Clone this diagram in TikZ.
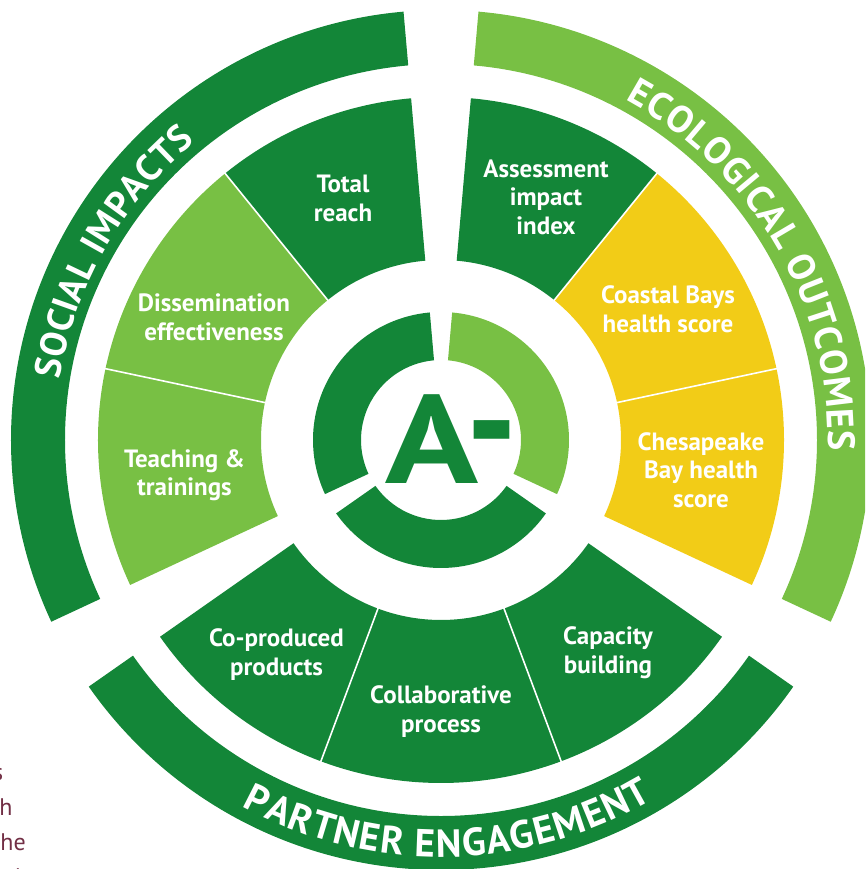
\documentclass[tikz,border=0pt]{standalone}
\usepackage{fontspec}
\setmainfont{PT Sans}
\usetikzlibrary{decorations.text}
\definecolor{dkgreen}{HTML}{138638}
\definecolor{ltgreen}{HTML}{78C044}
\definecolor{ylw}{HTML}{F2CC17}
\definecolor{bodymaroon}{HTML}{722F45}
\newcommand\ringseg[5]{%
  \fill[#1] (#2:#4pt) arc[start angle=#2, end angle=#3, radius=#4pt] -- (#3:#5pt) arc[start angle=#3, end angle=#2, radius=#5pt] -- cycle;}
\newcommand\bandfont[1]{\fontsize{#1}{#1}\selectfont\bfseries}
\tikzset{
  lbl/.style={text=white, font=\fontsize{25}{28.5}\selectfont\bfseries, align=center, inner sep=0pt},
  bodytxt/.style={text=bodymaroon, font=\fontsize{24}{24}\selectfont, inner sep=0pt, anchor=base east},
  sepline/.style={white, line width=1.6pt},
}
\begin{document}
\begin{tikzpicture}[x=1pt,y=1pt]
\useasboundingbox (-441,-429) rectangle (424,440);
\begin{scope}
\clip (-441,-429) rectangle (424,440);
% outer bands
\ringseg{dkgreen}{95}{205}{376}{430}
\ringseg{ltgreen}{-25}{85}{376}{430}
\ringseg{dkgreen}{215}{325}{376}{430}
% wedges
\ringseg{dkgreen}{95}{129}{180}{343}
\ringseg{ltgreen}{129}{168}{180}{343}
\ringseg{ltgreen}{168}{205}{180}{343}
\ringseg{dkgreen}{51}{85}{180}{343}
\ringseg{ylw}{12}{51}{180}{343}
\ringseg{ylw}{-25}{12}{180}{343}
\ringseg{dkgreen}{215}{249.5}{180}{343}
\ringseg{dkgreen}{249.5}{290.5}{180}{343}
\ringseg{dkgreen}{290.5}{325}{180}{343}
\foreach \a in {129,168,51,12,249.5,290.5}
  \draw[sepline] (\a:179pt) -- (\a:344pt);
% inner ring
\ringseg{dkgreen}{95}{205}{80}{128}
\ringseg{ltgreen}{-25}{85}{80}{128}
\ringseg{dkgreen}{215}{325}{80}{128}
% band titles
\path[decorate, decoration={text along path, text={|\bandfont{37}|SOCIAL IMPACTS}, text align=fit to path, text color=white}]
  (171:386pt) arc[start angle=171, end angle=129.5, radius=386pt];
\path[decorate, decoration={text along path, text={|\bandfont{38}|ECOLOGICAL OUTCOMES}, text align=fit to path, text color=white}]
  (61.5:387pt) arc[start angle=61.5, end angle=-1.5, radius=387pt];
\path[decorate, decoration={text along path, text={|\bandfont{39}|PARTNER ENGAGEMENT}, text align=fit to path, text color=white}]
  (241.5:417pt) arc[start angle=241.5, end angle=300.5, radius=417pt];
% labels
\node[lbl] (total) at (-98,241.5) {Total\\reach};
\node[lbl] (assess) at (105,243) {Assessment\\impact\\index};
\node[lbl] (dissem) at (-227,122.5) {Dissemination\\effectiveness};
\node[lbl] (coastal) at (227,130.5) {Coastal Bays\\health score};
\node[lbl] (teach) at (-256.5,-35) {Teaching \&\\trainings};
\node[lbl] (chesa) at (260,-30) {Chesapeake\\Bay health\\score};
\node[lbl] (coprod) at (-164.5,-214.5) {Co-produced\\products};
\node[lbl] (collab) at (0,-271.5) {Collaborative\\process};
\node[lbl] (capac) at (167,-212.5) {Capacity\\building};
% grade
\node[text=dkgreen, font=\fontsize{126}{126}\selectfont\bfseries, inner sep=0pt, anchor=base] (grade) at (-8.5,-44) {\scalebox{1.22}[1]{A}};
\node[text=dkgreen, font=\fontsize{100}{100}\selectfont\bfseries, inner sep=0pt, anchor=base] (minus) at (51,-37) {\scalebox{1.42}[1.62]{-}};
% cropped body text
\node[bodytxt] (w1) at (-437.5,-340) {s};
\node[bodytxt] (w2) at (-428.3,-375) {h};
\node[bodytxt] (w3) at (-415,-410) {he};
\node[bodytxt] (w4) at (-420,-445) {d};
\end{scope}
\end{tikzpicture}
\end{document}
